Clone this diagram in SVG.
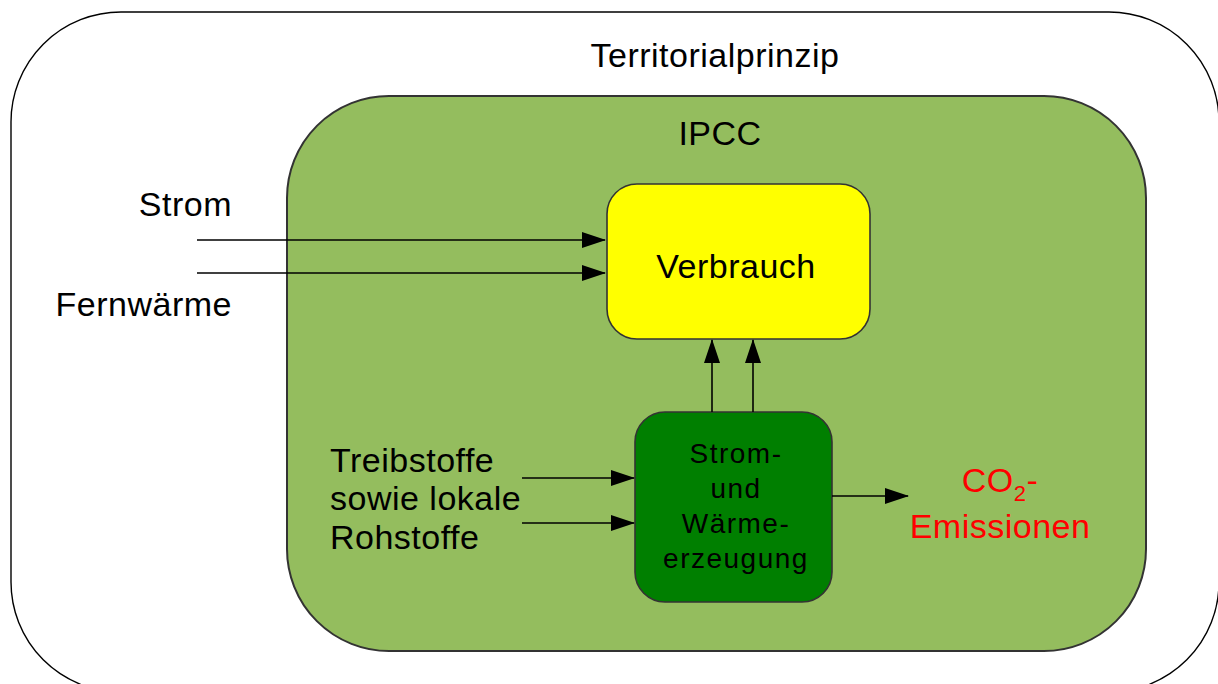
<svg xmlns="http://www.w3.org/2000/svg" width="1218" height="684" viewBox="0 0 1218 684">
<style>
text{font-family:"Liberation Sans",Arial,sans-serif;fill:#000}
.big{font-size:34px;letter-spacing:0.5px}
.mid{font-size:28px;letter-spacing:1.5px}
.red{fill:#ff0000}
.conn line{stroke:#000;stroke-width:1.6}
</style>
<defs>
<marker id="ah" markerWidth="24" markerHeight="16" refX="23" refY="8" orient="auto" markerUnits="userSpaceOnUse">
<path d="M0,0 L24,8 L0,16 Z" fill="#000"/>
</marker>
</defs>
<rect width="1218" height="684" fill="#fff"/>
<g id="territorial">
<rect x="11" y="12" width="1208" height="680" rx="110" ry="110" fill="#fff" stroke="#000" stroke-width="1.4"/>
<text class="big" x="715" y="67" text-anchor="middle">Territorialprinzip</text>
</g>
<g id="ipcc">
<rect x="287" y="96" width="859" height="555" rx="102" ry="102" fill="#94bd5e" stroke="#333" stroke-width="2"/>
<text class="big" x="720" y="145" text-anchor="middle">IPCC</text>
</g>
<g id="verbrauch">
<rect x="607" y="184" width="263" height="155" rx="30" ry="30" fill="#ffff00" stroke="#333" stroke-width="1.6"/>
<text class="big" x="736" y="278" text-anchor="middle">Verbrauch</text>
</g>
<g id="erzeugung">
<rect x="635" y="412" width="197" height="190" rx="30" ry="30" fill="#007f00" stroke="#333" stroke-width="1.6"/>
<text class="mid" x="736" y="463" text-anchor="middle">Strom-</text>
<text class="mid" x="736" y="498" text-anchor="middle">und</text>
<text class="mid" x="736" y="533" text-anchor="middle">Wärme-</text>
<text class="mid" x="736" y="568" text-anchor="middle">erzeugung</text>
</g>
<g id="strom">
<text class="big" x="232" y="216" text-anchor="end">Strom</text>
</g>
<g id="fernwaerme">
<text class="big" x="232" y="316" text-anchor="end">Fernwärme</text>
</g>
<g id="treibstoffe">
<text class="big" x="330" y="472">Treibstoffe</text>
<text class="big" x="330" y="510">sowie lokale</text>
<text class="big" x="330" y="549">Rohstoffe</text>
</g>
<g id="co2">
<text class="big red" x="1000" y="492" text-anchor="middle">CO<tspan font-size="22" dy="9">2</tspan><tspan dy="-9">-</tspan></text>
<text class="big red" x="1000" y="538" text-anchor="middle">Emissionen</text>
</g>
<g id="connectors" class="conn">
<line x1="197" y1="240" x2="605" y2="240" marker-end="url(#ah)"/>
<line x1="197" y1="273" x2="605" y2="273" marker-end="url(#ah)"/>
<line x1="712" y1="412" x2="712" y2="340" marker-end="url(#ah)"/>
<line x1="753" y1="412" x2="753" y2="340" marker-end="url(#ah)"/>
<line x1="522" y1="478" x2="634" y2="478" marker-end="url(#ah)"/>
<line x1="522" y1="523" x2="634" y2="523" marker-end="url(#ah)"/>
<line x1="832" y1="496" x2="908" y2="496" marker-end="url(#ah)"/>
</g>
</svg>
